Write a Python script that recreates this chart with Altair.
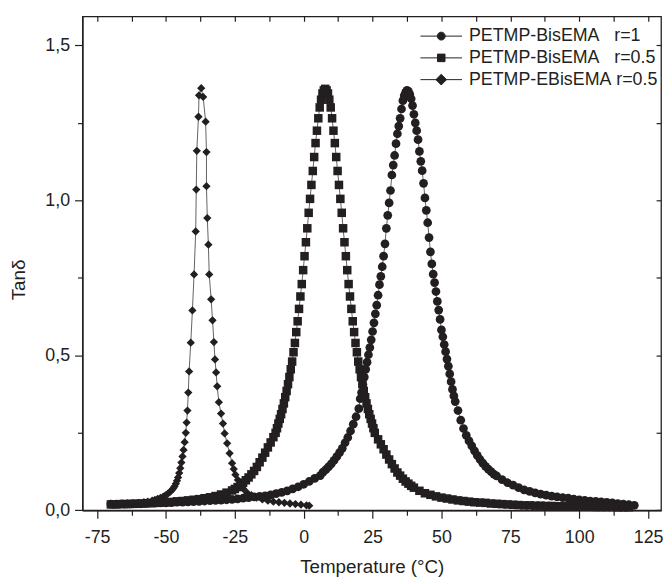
import altair as alt
import pandas as pd

# ---------------- data ----------------
SERIES = [
    "PETMP-BisEMA\u00a0\u00a0\u00a0r=1",
    "PETMP-BisEMA\u00a0\u00a0\u00a0r=0.5",
    "PETMP-EBisEMA\u00a0r=0.5",
]

# PETMP-BisEMA r=1 (circles)
circ_T = [-70, -68, -66, -64, -62, -60, -58, -56, -54, -52, -50, -48, -46, -44, -42, -40,
          -38, -36, -34, -32, -30, -28, -26, -24, -22, -20, -18, -16, -14, -12, -10, -8,
          -6, -4, -2, 0, 2, 4, 6,
          7, 8, 9, 10, 11, 12, 13, 14, 15, 16, 17, 18, 19, 20,
          20.5, 21, 21.5, 22, 22.5, 23, 23.5, 24, 24.5, 25, 25.5, 26, 26.5, 27, 27.5, 28,
          28.5, 29, 29.5, 30, 30.5, 31, 31.5, 32, 32.5, 33, 33.5, 34, 34.5, 35, 35.5, 36,
          36.5, 37, 37.5, 38, 38.5, 39, 39.5, 40, 40.5, 41, 41.5, 42, 42.5, 43, 43.5, 44,
          44.5, 45, 45.5, 46, 46.5, 47, 47.5, 48, 48.5, 49, 49.5, 50, 50.5, 51, 51.5, 52,
          52.5, 53, 53.5, 54, 54.5, 55,
          56, 57, 58, 59, 60, 61, 62, 63, 64, 65, 66, 67, 68, 69, 70,
          72, 74, 76, 78, 80, 82, 84, 86, 88, 90, 92, 94, 96, 98, 100, 102, 104, 106, 108,
          110, 112, 114, 116, 118, 120]
circ_v = [0.020, 0.020, 0.021, 0.021, 0.021, 0.022, 0.022, 0.023, 0.023, 0.024, 0.024, 0.025,
          0.026, 0.026, 0.027, 0.028, 0.029, 0.030, 0.031, 0.032, 0.033, 0.034, 0.035, 0.037,
          0.039, 0.041, 0.043, 0.045, 0.047, 0.050, 0.054, 0.058, 0.063, 0.069, 0.076, 0.084,
          0.093, 0.103, 0.112,
          0.123, 0.131, 0.140, 0.150, 0.161, 0.173, 0.186, 0.200, 0.218, 0.235, 0.256, 0.278,
          0.302, 0.328,
          0.360, 0.380, 0.405, 0.430, 0.455, 0.478, 0.502, 0.525, 0.550, 0.577, 0.605, 0.634,
          0.662, 0.694, 0.728, 0.755, 0.786, 0.820, 0.860, 0.910, 0.952, 0.992, 1.032, 1.082,
          1.114, 1.145, 1.183, 1.215, 1.240, 1.265, 1.295, 1.322, 1.338, 1.349, 1.355, 1.352,
          1.342, 1.328, 1.306, 1.278, 1.250, 1.225, 1.196, 1.158, 1.126, 1.096, 1.055, 1.008,
          0.968, 0.928, 0.880, 0.834, 0.795, 0.762, 0.735, 0.706, 0.674, 0.646, 0.616, 0.582,
          0.560, 0.535, 0.512, 0.488, 0.465, 0.440, 0.415, 0.390, 0.369, 0.351,
          0.322, 0.291, 0.264, 0.242, 0.224, 0.208, 0.192, 0.177, 0.164, 0.152, 0.142, 0.133,
          0.125, 0.117, 0.111,
          0.099, 0.089, 0.081, 0.073, 0.066, 0.061, 0.056, 0.052, 0.049, 0.046, 0.043, 0.041,
          0.039, 0.036, 0.034, 0.032, 0.030, 0.029, 0.027, 0.026, 0.024, 0.022, 0.020, 0.018,
          0.016]

# PETMP-BisEMA r=0.5 (squares)
sq_T = [-70, -68, -66, -64, -62, -60, -58, -56, -54, -52, -50, -48, -46, -44, -42, -40,
        -38, -36, -34, -32, -30, -28, -26,
        -25, -24, -23, -22, -21, -20, -19, -18, -17, -16, -15, -14, -13, -12, -11,
        -10.2, -9.7, -9.2, -8.7, -8.2, -7.7, -7.2, -6.7, -6.2, -5.7, -5.2, -4.7, -4.2,
        -3.7, -3.2, -2.7, -2.2, -1.7, -1.2, -0.7, -0.2, 0.3, 0.8, 1.3, 1.8, 2.3, 2.8,
        3.3, 3.8, 4.3, 4.8, 5.3, 5.8, 6.3, 6.8, 7.3, 7.8, 8.3, 8.8, 9.3, 9.8, 10.3, 10.8,
        11.3, 11.8, 12.3, 12.8, 13.3, 13.8, 14.3, 14.8, 15.3, 15.8, 16.3, 16.8, 17.3, 17.8,
        18.3, 18.8, 19.3, 19.8, 20.3, 20.8, 21.3, 21.8, 22.3, 22.8, 23.3, 23.8, 24.3, 24.8,
        25.3, 25.8,
        27, 28, 29, 30, 31, 32, 33, 34, 35, 36, 37, 38, 39, 40,
        42, 44, 46, 48, 50, 52, 54, 56, 58, 60, 62, 64, 66, 68, 70, 72, 74, 76, 78, 80,
        82, 84, 86, 88, 90, 92, 94, 96, 98, 100, 102, 104, 106, 108, 110, 112, 114, 116, 118]
sq_v = [0.019, 0.019, 0.020, 0.020, 0.021, 0.021, 0.022, 0.023, 0.024, 0.025, 0.026, 0.027,
        0.029, 0.030, 0.032, 0.034, 0.036, 0.039, 0.042, 0.046, 0.051, 0.057, 0.064,
        0.069, 0.075, 0.081, 0.089, 0.097, 0.106, 0.116, 0.127, 0.140, 0.155, 0.170, 0.186,
        0.203, 0.219, 0.236,
        0.250, 0.265, 0.280, 0.295, 0.310, 0.327, 0.345, 0.365, 0.385, 0.407, 0.430, 0.455,
        0.480, 0.510, 0.540, 0.575, 0.610, 0.650, 0.690, 0.730, 0.775, 0.820, 0.865, 0.910,
        0.960, 1.005, 1.050, 1.095, 1.140, 1.185, 1.225, 1.265, 1.300, 1.325, 1.345, 1.355,
        1.360, 1.355, 1.345, 1.325, 1.300, 1.265, 1.225, 1.185, 1.140, 1.095, 1.050, 1.005,
        0.960, 0.910, 0.865, 0.820, 0.775, 0.730, 0.690, 0.650, 0.610, 0.575, 0.540, 0.510,
        0.480, 0.455, 0.430, 0.407, 0.385, 0.365, 0.345, 0.327, 0.310, 0.295, 0.280, 0.265,
        0.250,
        0.229, 0.213, 0.197, 0.180, 0.164, 0.149, 0.135, 0.122, 0.112, 0.102, 0.093, 0.086,
        0.079, 0.073,
        0.063, 0.055, 0.050, 0.045, 0.041, 0.038, 0.035, 0.032, 0.030, 0.028, 0.026, 0.025,
        0.024, 0.022, 0.021, 0.020, 0.019, 0.018, 0.017, 0.016,
        0.016, 0.015, 0.015, 0.014, 0.014, 0.013, 0.013, 0.013, 0.012, 0.012, 0.012, 0.012,
        0.011, 0.011, 0.011, 0.011, 0.010, 0.010, 0.010]

# PETMP-EBisEMA r=0.5 (diamonds)
dia_T = [-70, -68, -66, -64, -62, -60, -58, -56.6, -55, -54, -53, -52, -51, -50.2, -49.4,
         -48.6, -48, -47.4, -46.9, -46.4, -46.0, -45.6, -45.2, -44.8, -44.4, -44.0, -43.6,
         -43.2, -42.8, -42.5, -42.2, -41.9, -41.6, -41.0, -40.4, -39.8, -39.2, -39.0, -38.8,
         -38.2, -38.0, -37.2, -36.5, -35.6, -35.3, -35.3, -35.0, -34.6, -34.3, -33.6, -33.1,
         -32.6, -32.2, -31.8, -31.4, -30.8, -30.0, -29.3, -28.7, -27.8, -26.9, -26.0, -25.4,
         -24.8, -23.9, -23.0, -22.0, -20.6, -19, -17.1, -15, -13, -11, -9, -7, -5, -3, -1, 1, 2]
dia_v = [0.020, 0.020, 0.021, 0.022, 0.023, 0.024, 0.026, 0.028, 0.031, 0.034, 0.037, 0.040,
         0.044, 0.048, 0.053, 0.059, 0.064, 0.070, 0.077, 0.086, 0.095, 0.106, 0.120, 0.136,
         0.154, 0.174, 0.195, 0.220, 0.250, 0.283, 0.322, 0.380, 0.448, 0.541, 0.645, 0.761,
         0.900, 1.035, 1.160, 1.270, 1.339, 1.362, 1.334, 1.254, 1.156, 1.046, 0.943, 0.857,
         0.761, 0.681, 0.613, 0.543, 0.487, 0.445, 0.400, 0.349, 0.312, 0.280, 0.248, 0.216,
         0.184, 0.152, 0.133, 0.115, 0.098, 0.083, 0.070, 0.057, 0.049, 0.041, 0.035, 0.031,
         0.028, 0.026, 0.024, 0.022, 0.020, 0.018, 0.016, 0.015]

X_TICKS = [-75, -62.5, -50, -37.5, -25, -12.5, 0, 12.5, 25, 37.5, 50, 62.5, 75, 87.5, 100,
           112.5, 125]
Y_TICKS = [0, 0.25, 0.5, 0.75, 1.0, 1.25, 1.5]

# ---------------- styling ----------------
INK = "#231f20"
FONT = "Liberation Sans, Arial, Helvetica, sans-serif"
LEG_PATHS = [
    "M-5.25,0H5.25M1,0A1,1,0,1,1,-1,0A1,1,0,1,1,1,0Z",
    "M-5.25,0H5.25M-0.95,-0.95H0.95V0.95H-0.95Z",
    "M-5.25,0H5.25M-1.35,0L0,-1.35L1.35,0L0,1.35Z",
]

rows = []
for name, Ts, vs in zip(SERIES, [circ_T, sq_T, dia_T], [circ_v, sq_v, dia_v]):
    assert len(Ts) == len(vs), (name, len(Ts), len(vs))
    for i, (t, v) in enumerate(zip(Ts, vs)):
        rows.append({"series": name, "T": t, "v": v, "idx": i})
df = pd.DataFrame(rows)

xs = alt.Scale(domain=[-80.3, 129.7], nice=False, zero=False)
ys = alt.Scale(domain=[0, 1.594], nice=False, zero=False)

x_bottom = alt.Axis(
    values=X_TICKS, orient="bottom", grid=False, labelFlush=False,
    labelExpr="datum.value % 25 === 0 ? toString(datum.value) : ''",
    tickSize={"condition": {"test": "datum.value % 25 === 0", "value": 8}, "value": 5},
    labelPadding=11, title="Temperature (°C)", titleY=57, titleBaseline="middle",
)
y_left = alt.Axis(
    values=Y_TICKS, orient="left", grid=False, labelFlush=False,
    labelExpr="datum.value % 0.5 === 0 ? replace(format(datum.value, '.1f'), '.', ',') : ''",
    tickSize={"condition": {"test": "datum.value % 0.5 === 0", "value": 8}, "value": 5},
    labelPadding=5, title="Tan\u03b4", titleX=-65, titleY=266, titleBaseline="middle",
)
x_top = alt.Axis(values=X_TICKS, orient="top", labels=False, title=None, domain=False,
                 grid=False, tickSize={"expr": "-5"})
y_right = alt.Axis(values=Y_TICKS, orient="right", labels=False, title=None, domain=False,
                   grid=False, tickSize={"expr": "-5"})

base = alt.Chart(df)

lines = base.mark_line(color="#3a3a3a", strokeWidth=0.8).encode(
    x=alt.X("T:Q", scale=xs, axis=x_top),
    y=alt.Y("v:Q", scale=ys, axis=y_right),
    detail="series:N",
    order="idx:Q",
)

points = base.mark_point(filled=True, color=INK, opacity=1).encode(
    x=alt.X("T:Q", scale=xs, axis=x_bottom),
    y=alt.Y("v:Q", scale=ys, axis=y_left),
    shape=alt.Shape("series:N", scale=alt.Scale(domain=SERIES, range=["circle", "square", "diamond"]), legend=None),
    size=alt.Size("series:N", scale=alt.Scale(domain=SERIES, range=[78, 70, 112]), legend=None),
)

legend_layer = base.transform_filter("datum.T > 9999").mark_point(
    filled=False, color=INK, fill=INK, stroke=INK, strokeWidth=1, size=64, opacity=1
).encode(
    x=alt.X("T:Q", scale=xs, axis=None),
    y=alt.Y("v:Q", scale=ys, axis=None),
    shape=alt.Shape(
        "series:N",
        scale=alt.Scale(domain=SERIES, range=LEG_PATHS),
        legend=alt.Legend(
            orient="none", legendX=353.7, legendY=11, title=None, padding=0,
            labelFont=FONT, labelFontSize=18, labelColor=INK, labelLimit=0,
            labelOffset=19, rowPadding=4, symbolSize=64, symbolStrokeWidth=1,
            symbolOpacity=1,
        ),
    ),
)

chart = (
    alt.layer(lines, points, legend_layer)
    .resolve_scale(shape="independent", size="independent")
    .resolve_axis(x="independent", y="independent")
    .properties(
        width=584.9, height=499.4,
        padding={"left": 75.3, "top": 5.3, "right": 3, "bottom": 66},
        autosize=alt.AutoSizeParams(type="none"),
    )
    .configure_view(stroke=INK, strokeWidth=1.3)
    .configure_axis(
        labelFont=FONT, labelFontSize=18, labelColor=INK,
        titleFont=FONT, titleFontSize=19, titleFontWeight="normal", titleColor=INK,
        tickColor=INK, tickWidth=1.2, domainColor=INK, domainWidth=1.3,
    )
)

chart.save("out.html", embed_options={"renderer": "svg", "actions": False})
